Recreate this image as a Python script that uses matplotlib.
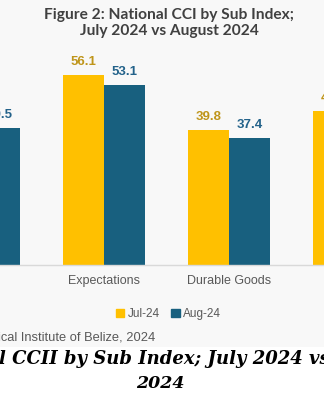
import matplotlib
matplotlib.use('Agg')
import matplotlib.pyplot as plt
from matplotlib.patches import Patch, Rectangle

categories = ['Current', 'Expectations', 'Durable Goods', 'Overall']
jul_24 = [42.0, 56.1, 39.8, 45.4]
aug_24 = [40.5, 53.1, 37.4, 44.0]

yellow = '#FFC000'
blue = '#18607F'
gray = '#595959'

W, H = 324, 400
fig = plt.figure(figsize=(W / 100, H / 100), dpi=100)
fig.patch.set_facecolor('white')
fig.patches.append(Rectangle((0, (H - 347) / H), 1, 347 / H, transform=fig.transFigure,
                             facecolor='#f8f8f8', edgecolor='none', zorder=-5))

# axes spans full width, baseline at 265 px from top
ax = fig.add_axes([0, (H - 265) / H, 1, 265 / H])
ax.set_facecolor('none')
ax.set_zorder(2)
spacing = 125.0

bw = 41 / spacing
x = list(range(len(categories)))
b1 = ax.bar([i - bw / 2 for i in x], jul_24, bw, color=yellow, zorder=2)
b2 = ax.bar([i + bw / 2 for i in x], aug_24, bw, color=blue, zorder=2)

for bars, vals, c in [(b1, jul_24, '#BF951A'), (b2, aug_24, '#23628A')]:
    for r, v in zip(bars, vals):
        ax.annotate(f'{v:.1f}', (r.get_x() + r.get_width() / 2, v), xytext=(0, 5),
                    textcoords='offset points', ha='center', va='bottom',
                    fontsize=9.5, fontweight='bold', color=c, family='Liberation Sans',
                    annotation_clip=False)

for s in ['top', 'left', 'right']:
    ax.spines[s].set_visible(False)
ax.spines['bottom'].set_color('#d9d9d9')
ax.spines['bottom'].set_linewidth(1)
ax.set_yticks([])
ax.set_xticks(x)
ax.set_xticklabels(categories, fontsize=9, color=gray, family='Liberation Sans')
ax.tick_params(axis='x', length=0, pad=7.5)

# crop the view like the reference (set after ticks so limits are kept)
xmin = 1 - 104 / spacing
ax.set_xlim(xmin, xmin + W / spacing)
ax.set_ylim(0, 265 / 3.39)

fig.text(169 / W, (H - 23) / H, 'Figure 2: National CCI by Sub Index;\nJuly 2024 vs August 2024',
         ha='center', va='center', fontsize=11.2, fontweight='bold', color='#404040',
         family='Lato', linespacing=1.2)

handles = [Patch(color=yellow, label='Jul-24'), Patch(color=blue, label='Aug-24')]
fig.legend(handles=handles, loc='center', bbox_to_anchor=(168.5 / W, (H - 314) / H),
           ncol=2, frameon=False, handlelength=0.7, handleheight=0.7, handletextpad=0.3,
           columnspacing=1.0, prop={'family': 'Liberation Sans', 'size': 8.5},
           labelcolor=gray)

fig.text(155 / W, (H - 337) / H, 'Source: Statistical Institute of Belize, 2024',
         ha='right', va='center', fontsize=9.3, color=gray, family='Liberation Sans')

cap = dict(fontweight='bold', style='italic', family='DejaVu Serif', color='black', va='center')
fig.text(0, (H - 359) / H, 'Figure 2: Nationa', ha='right', fontsize=13, **cap)
fig.text(-1 / W, (H - 359) / H, 'l CCII by Sub Index; July 2024 vs August', ha='left',
         fontsize=13, **cap)
fig.text(160.5 / W, (H - 383) / H, '2024', ha='center', fontsize=12.5, **cap)

fig.savefig('out.png', dpi=100, facecolor=fig.get_facecolor())
